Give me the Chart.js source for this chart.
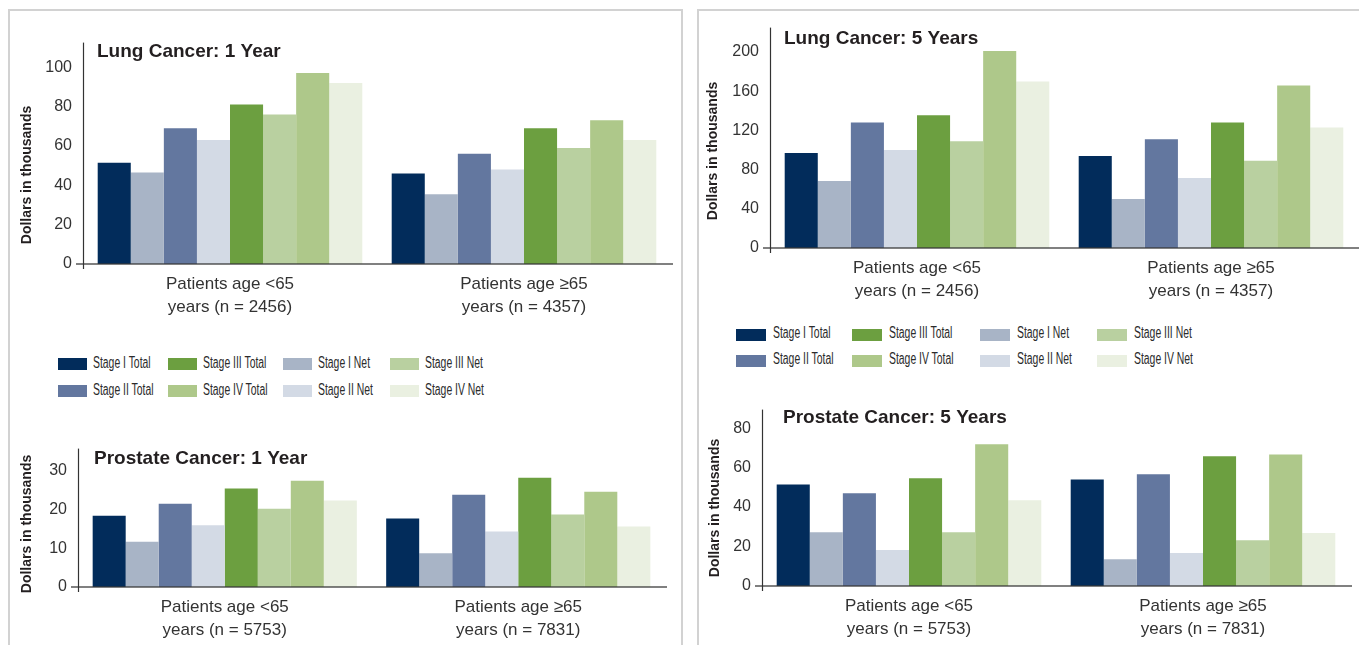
<!DOCTYPE html>
<html lang="en">
<head>
<meta charset="utf-8">
<title>Cancer care costs by stage</title>
<script src="https://cdn.jsdelivr.net/npm/chart.js@4.4.1/dist/chart.umd.min.js"></script>
<style>
  html, body { margin: 0; padding: 0; background: #fff; overflow: hidden; }
  body { width: 1359px; height: 645px; position: relative; font-family: "Liberation Sans", Arial, sans-serif; color: #333; }
  .kader { position: absolute; border: 2px solid #d2d2d2; box-sizing: border-box; }
  canvas { position: absolute; }
  .legenda-blok { position: absolute; height: 12px; }
  .legenda-tekst { position: absolute; font-size: 16px; line-height: 18px; white-space: nowrap; color: #2b2b2b;
                   transform: scaleX(0.65); transform-origin: left center; }
</style>
</head>
<body>
<div class="kader" style="left:8px; top:9px; width:675px; height:700px;"></div>
<div class="kader" style="left:697px; top:9px; width:700px; height:700px;"></div>
<script>
// Stadia in de volgorde van de staven binnen een groep
const stadia = ['Stage I Total', 'Stage I Net', 'Stage II Total', 'Stage II Net',
                'Stage III Total', 'Stage III Net', 'Stage IV Total', 'Stage IV Net'];
const stadiumKleuren = ['#022c5b', '#a8b4c6', '#63779f', '#d3dae5',
                        '#6c9f40', '#b9d0a0', '#aec88a', '#eaf0e1'];

// Categorieen (x-as), twee regels per label
const categorieenLong = [['Patients age <65', 'years (n = 2456)'], ['Patients age \u226565', 'years (n = 4357)']];
const categorieenProstaat = [['Patients age <65', 'years (n = 5753)'], ['Patients age \u226565', 'years (n = 7831)']];

// Waarden in duizenden dollars, per stadium (jong = <65, oud = >=65)
const longJaar1Jong = [51.5, 46.5, 69, 63, 81, 76, 97, 92];
const longJaar1Oud = [46, 35.5, 56, 48, 69, 59, 73, 63];
const longJaar5Jong = [97, 68.5, 128, 100, 135.5, 109, 201, 170];
const longJaar5Oud = [94, 50, 111, 71.5, 128, 89, 166, 123];
const prostaatJaar1Jong = [18.4, 11.7, 21.5, 15.9, 25.4, 20.2, 27.4, 22.3];
const prostaatJaar1Oud = [17.7, 8.7, 23.8, 14.3, 28.2, 18.7, 24.6, 15.6];
const prostaatJaar5Jong = [51.5, 27.3, 47, 18.2, 54.6, 27.3, 71.8, 43.5];
const prostaatJaar5Oud = [54, 13.6, 56.6, 16.7, 65.7, 23.2, 66.7, 26.8];

// Tick labels van de y-assen
const ticksLongJaar1 = [0, 20, 40, 60, 80, 100];
const ticksLongJaar5 = [0, 40, 80, 120, 160, 200];
const ticksProstaatJaar1 = [0, 10, 20, 30];
const ticksProstaatJaar5 = [0, 20, 40, 60, 80];

// Legenda: twee rijen, indexen in stadia
const legendaRijen = [[0, 4, 1, 5], [2, 6, 3, 7]];

Chart.defaults.font.family = '"Liberation Sans", Arial, sans-serif';

const YAS_BREEDTE = 75, XAS_HOOGTE = 60, MARGE_BOVEN = 20, MARGE_RECHTS = 12;

// Tekent assen, titel en as-titel bovenop de staven
const kaderPlugin = {
    id: 'kaderTekst',
    afterDatasetsDraw(chart, args, opt) {
        const { ctx, chartArea } = chart;
        const nul = chart.scales.y.getPixelForValue(0);
        ctx.save();
        // nullijn
        ctx.strokeStyle = 'rgba(55,55,55,0.85)';
        ctx.lineWidth = 1.5;
        ctx.beginPath();
        ctx.moveTo(chartArea.left - 7, nul);
        ctx.lineTo(chartArea.right + 2, nul);
        ctx.stroke();
        // verticale as
        ctx.strokeStyle = '#333';
        ctx.lineWidth = 1.2;
        ctx.beginPath();
        ctx.moveTo(chartArea.left + 0.5, chartArea.top);
        ctx.lineTo(chartArea.left + 0.5, nul + 5);
        ctx.stroke();
        // titel
        ctx.fillStyle = '#231f20';
        ctx.font = 'bold 19px "Liberation Sans", Arial, sans-serif';
        ctx.textAlign = 'left';
        ctx.textBaseline = 'alphabetic';
        ctx.fillText(opt.titel, chartArea.left + opt.titelDx, chartArea.top + opt.titelDy);
        // y-as titel
        ctx.translate(chartArea.left + opt.asDx, nul + opt.asDy);
        ctx.rotate(-Math.PI / 2);
        ctx.font = 'bold 14px "Liberation Sans", Arial, sans-serif';
        ctx.textAlign = 'center';
        ctx.textBaseline = 'middle';
        ctx.fillText('Dollars in thousands', 0, 0);
        ctx.restore();
    }
};

function maakGrafiek(g) {
    const canvas = document.createElement('canvas');
    const breedte = g.vak.r - g.vak.l + YAS_BREEDTE + MARGE_RECHTS;
    const hoogte = g.vak.b - g.vak.t + MARGE_BOVEN + XAS_HOOGTE;
    canvas.width = breedte;
    canvas.height = hoogte;
    canvas.style.left = (g.vak.l - YAS_BREEDTE) + 'px';
    canvas.style.top = (g.vak.t - MARGE_BOVEN) + 'px';
    canvas.style.width = breedte + 'px';
    canvas.style.height = hoogte + 'px';
    document.body.appendChild(canvas);

    return new Chart(canvas.getContext('2d'), {
        type: 'bar',
        data: {
            labels: g.categorieen,
            datasets: stadia.map((naam, i) => ({
                label: naam,
                data: [g.jong[i], g.oud[i]],
                backgroundColor: stadiumKleuren[i],
                borderWidth: 0,
                barPercentage: 1,
                categoryPercentage: 0.9
            }))
        },
        options: {
            responsive: false,
            animation: false,
            layout: { padding: { top: MARGE_BOVEN, right: MARGE_RECHTS, left: 0, bottom: 0 } },
            plugins: {
                legend: { display: false },
                tooltip: { enabled: false },
                kaderTekst: g.tekst
            },
            scales: {
                x: {
                    grid: { display: false, drawTicks: false },
                    border: { display: false },
                    ticks: { color: '#333', font: { size: 17, lineHeight: 1.35 }, padding: 9, maxRotation: 0, autoSkip: false },
                    afterFit: as => { as.height = XAS_HOOGTE; }
                },
                y: {
                    min: 0,
                    max: g.max,
                    grid: { display: false, drawTicks: false },
                    border: { display: false },
                    ticks: { color: '#333', font: { size: 16 }, padding: 11 },
                    afterBuildTicks: as => { as.ticks = g.ticks.map(v => ({ value: v })); },
                    afterFit: as => { as.width = YAS_BREEDTE; }
                }
            }
        },
        plugins: [kaderPlugin]
    });
}

function maakLegenda(kolomX, rijY, blokBreedte, tekstAfstand, tekstVerschuiving) {
    legendaRijen.forEach((rij, r) => {
        rij.forEach((idx, k) => {
            const blok = document.createElement('div');
            blok.className = 'legenda-blok';
            blok.style.left = kolomX[k] + 'px';
            blok.style.top = rijY[r] + 'px';
            blok.style.width = blokBreedte + 'px';
            blok.style.background = stadiumKleuren[idx];
            document.body.appendChild(blok);

            const tekst = document.createElement('div');
            tekst.className = 'legenda-tekst';
            tekst.textContent = stadia[idx];
            tekst.style.left = (kolomX[k] + tekstAfstand) + 'px';
            tekst.style.top = (rijY[r] + tekstVerschuiving) + 'px';
            document.body.appendChild(tekst);
        });
    });
}

maakGrafiek({
    vak: { l: 83, t: 42, r: 671, b: 264 }, max: 112.5, ticks: ticksLongJaar1,
    categorieen: categorieenLong, jong: longJaar1Jong, oud: longJaar1Oud,
    tekst: { titel: 'Lung Cancer: 1 Year', titelDx: 14, titelDy: 14, asDx: -56, asDy: -89 }
});
maakGrafiek({
    vak: { l: 78, t: 448, r: 665, b: 587 }, max: 35.7, ticks: ticksProstaatJaar1,
    categorieen: categorieenProstaat, jong: prostaatJaar1Jong, oud: prostaatJaar1Oud,
    tekst: { titel: 'Prostate Cancer: 1 Year', titelDx: 16, titelDy: 15, asDx: -51, asDy: -63 }
});
maakGrafiek({
    vak: { l: 770, t: 27, r: 1358, b: 248 }, max: 225, ticks: ticksLongJaar5,
    categorieen: categorieenLong, jong: longJaar5Jong, oud: longJaar5Oud,
    tekst: { titel: 'Lung Cancer: 5 Years', titelDx: 14, titelDy: 16, asDx: -57, asDy: -97 }
});
maakGrafiek({
    vak: { l: 762, t: 409, r: 1350, b: 586 }, max: 89.4, ticks: ticksProstaatJaar5,
    categorieen: categorieenProstaat, jong: prostaatJaar5Jong, oud: prostaatJaar5Oud,
    tekst: { titel: 'Prostate Cancer: 5 Years', titelDx: 21, titelDy: 13, asDx: -47, asDy: -78 }
});

maakLegenda([58, 168, 283, 390], [358, 385], 29, 35, -4);
maakLegenda([736, 852, 980, 1097], [329, 355], 30, 37, -5);
</script>
</body>
</html>
